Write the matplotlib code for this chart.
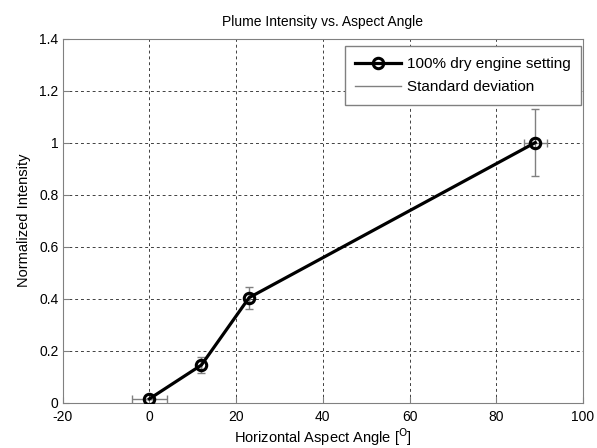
import matplotlib
matplotlib.use("Agg")
import matplotlib.pyplot as plt
from matplotlib.lines import Line2D

plt.rcParams['font.family'] = ['Liberation Sans', 'DejaVu Sans']
plt.rcParams['axes.unicode_minus'] = False

angle = [0, 12, 23, 89]
intensity = [0.015, 0.145, 0.404, 1.0]
y_err = [0.0, 0.03, 0.042, 0.13]
x_err = [4.0, 0.0, 0.0, 2.7]

xticks = [-20, 0, 20, 40, 60, 80, 100]
yticks = [0, 0.2, 0.4, 0.6, 0.8, 1, 1.2, 1.4]
ytick_labels = ['0', '0.2', '0.4', '0.6', '0.8', '1', '1.2', '1.4']

fig = plt.figure(figsize=(5.97, 4.48), dpi=100)
ax = fig.add_axes([0.105, 0.101, 0.8715, 0.813])

ax.errorbar(angle, intensity, yerr=y_err, xerr=x_err, fmt='none',
            ecolor='#808080', elinewidth=1.0, capsize=3, capthick=1.0, zorder=2)
ax.plot(angle, intensity, color='black', linewidth=2.3, marker='o',
        markersize=7.5, markerfacecolor='none', markeredgecolor='black',
        markeredgewidth=2.2, zorder=3)

ax.set_xlim(-20, 100)
ax.set_ylim(0, 1.4)
ax.set_xticks(xticks)
ax.set_yticks(yticks)
ax.set_yticklabels(ytick_labels)
ax.grid(True, linestyle=(0, (3, 3)), color='#404040', linewidth=0.7)
for s in ax.spines.values():
    s.set_color('#808080')
ax.tick_params(direction='in', length=4, color='#808080', labelsize=10)
ax.tick_params(axis='x', pad=5)
ax.tick_params(axis='y', pad=3)

ax.set_title('Plume Intensity vs. Aspect Angle', fontsize=10, pad=9)
ax.set_xlabel('Horizontal Aspect Angle [$^{\\mathrm{O}}$]', fontsize=10.5, labelpad=2)
ax.set_ylabel('Normalized Intensity', fontsize=10.5, labelpad=6)

handles = [
    Line2D([], [], color='black', linewidth=2.3, marker='o', markersize=7.5,
           markerfacecolor='none', markeredgewidth=2.2),
    Line2D([], [], color='#808080', linewidth=1.0),
]
leg = ax.legend(handles, ['100% dry engine setting', 'Standard deviation'],
                loc='upper right', bbox_to_anchor=(0.9962, 0.979),
                borderaxespad=0, fontsize=11, fancybox=False, framealpha=1,
                edgecolor='#808080', handlelength=3.0, handletextpad=0.35,
                labelspacing=0.6, borderpad=0.7)
leg.get_frame().set_linewidth(1.0)

fig.savefig('out.png', dpi=100)
